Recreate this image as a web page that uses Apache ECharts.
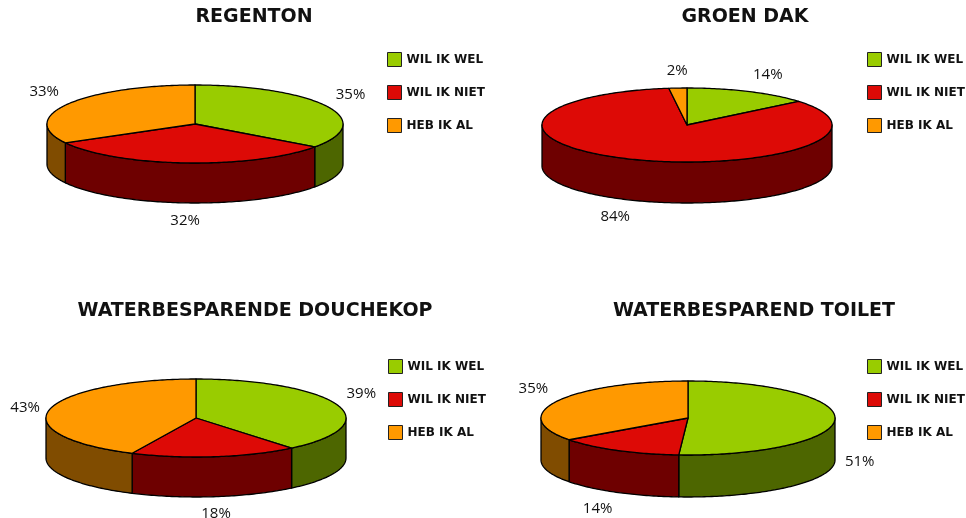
<!DOCTYPE html>
<html>
<head>
<meta charset="utf-8">
<script src="https://cdn.jsdelivr.net/npm/echarts@6/dist/echarts.min.js"></script>
<style>
  html, body { margin: 0; padding: 0; background: #fff; }
  #main { width: 966px; height: 518px; }
</style>
</head>
<body>
<div id="main"></div>
<script>
// data
const categories = ['WIL IK WEL', 'WIL IK NIET', 'HEB IK AL'];
const titles = ['REGENTON', 'GROEN DAK', 'WATERBESPARENDE DOUCHEKOP', 'WATERBESPAREND TOILET'];
const regenton = [35, 32, 33];
const groenDak = [14, 84, 2];
const douchekop = [39, 18, 43];
const toilet = [51, 14, 35];
const values = [regenton, groenDak, douchekop, toilet];

// styles
const topColors = ['#99cc00', '#dd0a06', '#ff9900'];
const sideColors = ['#4d6600', '#6e0000', '#804c00'];

// layout of each 3d pie
const pies = [
  { cx: 195, cy: 124, rx: 148, ry: 39, depth: 40, legendX: 387, legendY: 52, titleX: 254, titleY: 8 },
  { cx: 687, cy: 125, rx: 145, ry: 37, depth: 41, legendX: 867, legendY: 52, titleX: 745, titleY: 8 },
  { cx: 196, cy: 418, rx: 150, ry: 39, depth: 40, legendX: 388, legendY: 359, titleX: 255, titleY: 302 },
  { cx: 688, cy: 418, rx: 147, ry: 37, depth: 42, legendX: 867, legendY: 359, titleX: 754, titleY: 302 }
];

const TWO_PI = Math.PI * 2;

function renderSlice(params, api) {
  const ci = api.value(0);
  const k = api.value(1);
  const val = api.value(2);
  const vals = values[ci];
  const g = pies[ci];
  const total = vals.reduce((a, b) => a + b, 0);
  let before = 0;
  for (let i = 0; i < k; i++) before += vals[i];
  const t1 = before / total * TWO_PI;
  const t2 = (before + val) / total * TWO_PI;

  // angle t measured clockwise from 12 o'clock
  const pt = (t, dy) => [g.cx + g.rx * Math.sin(t), g.cy - g.ry * Math.cos(t) + dy];
  const arc = (a, b, dy) => {
    const n = Math.max(2, Math.ceil((b - a) / (Math.PI / 180)));
    const pts = [];
    for (let i = 0; i <= n; i++) pts.push(pt(a + (b - a) * i / n, dy));
    return pts;
  };

  const children = [];

  // side wall, only the front half is visible
  const a = Math.max(t1, Math.PI / 2);
  const b = Math.min(t2, Math.PI * 1.5);
  if (a < b) {
    const pts = arc(a, b, 0).concat(arc(a, b, g.depth).reverse());
    children.push({
      type: 'polygon',
      z2: 1,
      shape: { points: pts },
      style: { fill: sideColors[k], stroke: '#000', lineWidth: 1.3, lineJoin: 'round' }
    });
  }

  // top face
  children.push({
    type: 'polygon',
    z2: 10,
    shape: { points: [[g.cx, g.cy]].concat(arc(t1, t2, 0)) },
    style: { fill: topColors[k], stroke: '#000', lineWidth: 1.3, lineJoin: 'round' }
  });

  // percentage label
  const mid = (t1 + t2) / 2;
  const s = Math.sin(mid), c = Math.cos(mid);
  const edge = pt(mid, c < 0 ? g.depth : 0);
  const d = 10;
  children.push({
    type: 'text',
    z2: 20,
    style: {
      text: Math.round(val / total * 100) + '%',
      x: edge[0] + d * s,
      y: edge[1] - d * c,
      align: s > 0.3 ? 'left' : (s < -0.3 ? 'right' : 'center'),
      verticalAlign: c > 0.3 ? 'bottom' : (c < -0.3 ? 'top' : 'middle'),
      fill: '#111',
      font: '15px "Open Sans"'
    }
  });

  return { type: 'group', children: children };
}

const series = [];
values.forEach((vals, ci) => {
  vals.forEach((v, k) => {
    series.push({
      type: 'custom',
      name: categories[k],
      coordinateSystem: 'none',
      itemStyle: { color: topColors[k] },
      data: [[ci, k, v]],
      renderItem: renderSlice
    });
  });
});

const chart = echarts.init(document.getElementById('main'));
chart.setOption({
  animation: false,
  backgroundColor: '#fff',
  title: pies.map((g, i) => ({
    text: titles[i],
    left: g.titleX,
    top: g.titleY,
    textAlign: 'center',
    padding: 0,
    textStyle: { fontFamily: 'DejaVu Sans', fontWeight: 'bold', fontSize: 19, color: '#111' }
  })),
  legend: pies.map(g => ({
    orient: 'vertical',
    left: g.legendX,
    top: g.legendY,
    padding: 0,
    itemWidth: 14,
    itemHeight: 14,
    itemGap: 18,
    icon: 'rect',
    data: categories.map((name, k) => ({
      name: name,
      itemStyle: { color: topColors[k], borderColor: '#222', borderWidth: 1 }
    })),
    textStyle: { fontFamily: 'DejaVu Sans', fontWeight: 'bold', fontSize: 12, color: '#111' }
  })),
  series: series
});
</script>
</body>
</html>
